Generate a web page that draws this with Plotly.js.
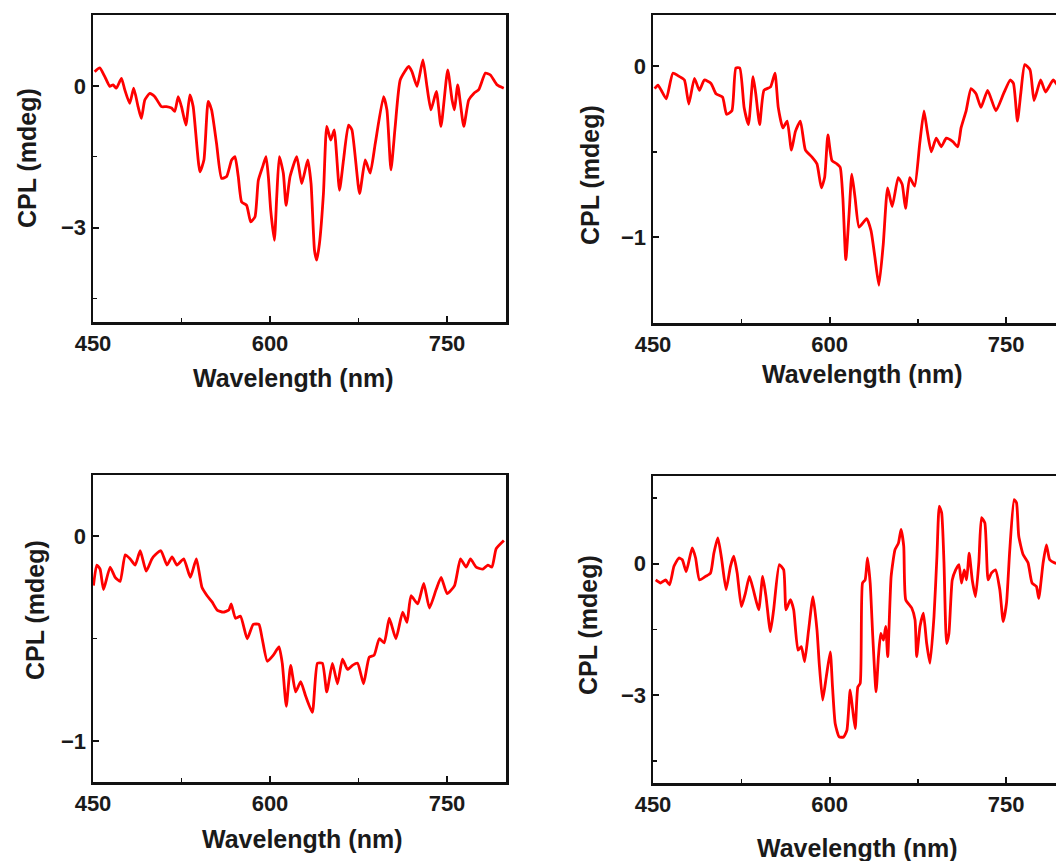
<!DOCTYPE html>
<html>
<head>
<meta charset="utf-8">
<script src="https://cdn.plot.ly/plotly-3.0.1.min.js"></script>
<style>
  html, body { margin: 0; padding: 0; background: #fff; overflow: hidden; }
  #chart { width: 1070px; height: 861px; }
</style>
</head>
<body>
<div id="chart"></div>
<script>
// ---- Data ----
const xTickLabels = ['450', '600', '750'];
const xTitle = 'Wavelength (nm)';
const yTitle = 'CPL (mdeg)';

const wl1 = [451.4,455.7,459.9,464.2,467.0,469.8,474.1,476.9,481.1,484.5,488.2,491.0,493.9,498.1,502.4,508.0,512.3,516.5,519.3,522.2,525.0,528.7,532.1,534.9,540.6,544.0,547.6,550.5,554.7,559.0,563.2,567.5,570.3,573.1,576.0,580.2,583.6,587.3,590.1,593.8,596.6,598.6,600.6,603.7,605.7,607.9,611.3,613.6,617.0,622.7,626.9,632.0,634.8,637.7,639.6,641.9,645.3,648.1,651.5,654.4,658.9,662.3,666.5,669.4,675.9,680.7,684.9,689.2,696.2,699.1,702.5,706.1,710.4,717.5,720.3,724.6,729.6,733.0,736.4,741.0,744.9,750.6,754.3,756.3,759.1,764.2,768.4,772.7,776.9,782.6,786.8,792.5,798.1];
const cpl1 = [0.30,0.38,0.20,-0.01,0.02,-0.05,0.16,-0.08,-0.37,-0.05,-0.44,-0.69,-0.30,-0.16,-0.23,-0.44,-0.44,-0.47,-0.54,-0.23,-0.44,-0.83,-0.19,-0.44,-1.82,-1.57,-0.33,-0.51,-1.22,-1.96,-1.92,-1.57,-1.50,-1.92,-2.46,-2.53,-2.88,-2.77,-2.00,-1.71,-1.50,-1.92,-2.63,-3.27,-2.35,-1.50,-1.85,-2.53,-1.92,-1.50,-2.07,-1.57,-2.07,-3.48,-3.69,-3.34,-2.28,-0.86,-1.15,-0.93,-2.21,-1.57,-0.83,-0.93,-2.28,-1.57,-1.85,-1.22,-0.23,-0.51,-1.78,-0.86,0.13,0.41,0.30,-0.01,0.55,-0.01,-0.51,-0.12,-0.86,0.34,-0.30,-0.51,0.02,-0.86,-0.30,-0.16,-0.08,0.27,0.23,0.02,-0.05];

const wl2 = [451.4,454.2,457.0,461.3,466.9,472.5,476.7,480.4,485.2,489.4,493.6,499.3,503.5,509.1,512.5,517.0,520.4,523.7,527.4,531.1,535.0,537.3,540.6,544.3,549.9,553.6,556.4,560.3,564.0,567.6,571.0,575.2,579.5,585.1,589.3,593.0,595.8,598.6,602.0,606.2,609.0,611.3,613.8,616.6,618.9,621.7,625.1,631.5,635.2,638.6,641.9,645.6,649.3,653.2,658.3,661.7,664.5,668.1,672.3,676.6,680.2,683.0,686.4,690.6,694.9,699.1,704.7,708.9,711.7,716.0,720.2,724.4,728.6,734.3,741.3,747.8,753.4,756.2,759.6,762.4,765.8,770.3,773.7,779.3,783.5,790.0,795.0,800.0];
const cpl2 = [-0.13,-0.11,-0.14,-0.19,-0.04,-0.06,-0.08,-0.22,-0.07,-0.14,-0.08,-0.10,-0.16,-0.18,-0.28,-0.26,-0.01,-0.01,-0.24,-0.34,-0.06,-0.16,-0.34,-0.14,-0.12,-0.04,-0.24,-0.36,-0.32,-0.49,-0.38,-0.32,-0.49,-0.53,-0.57,-0.71,-0.65,-0.40,-0.55,-0.57,-0.59,-0.77,-1.13,-0.86,-0.63,-0.77,-0.94,-0.89,-0.96,-1.12,-1.28,-1.04,-0.71,-0.82,-0.65,-0.69,-0.83,-0.65,-0.70,-0.45,-0.26,-0.38,-0.50,-0.42,-0.47,-0.42,-0.44,-0.47,-0.36,-0.26,-0.13,-0.16,-0.24,-0.14,-0.26,-0.16,-0.08,-0.10,-0.32,-0.16,0.01,-0.02,-0.20,-0.08,-0.15,-0.08,-0.12,-0.10];

const wl3 = [450.4,453.2,456.0,458.9,464.5,468.8,473.0,477.3,481.5,485.8,490.0,495.1,499.9,502.8,507.6,512.7,517.0,521.2,526.9,532.5,537.6,542.4,546.7,550.9,555.2,560.3,565.1,567.1,570.8,575.0,580.7,585.8,590.6,593.4,597.7,602.8,607.6,610.4,613.8,617.5,621.7,626.0,630.2,635.9,640.2,644.4,648.1,652.9,657.2,661.4,665.7,669.9,674.2,679.3,684.1,688.3,692.6,696.8,701.1,706.7,712.4,716.1,719.5,725.2,730.3,735.1,740.8,745.0,750.1,756.4,761.4,766.2,769.9,774.7,780.4,784.6,788.1,791.7,798.2];
const cpl3 = [-0.24,-0.14,-0.16,-0.26,-0.15,-0.20,-0.22,-0.09,-0.11,-0.14,-0.07,-0.17,-0.11,-0.09,-0.07,-0.14,-0.10,-0.14,-0.11,-0.20,-0.11,-0.25,-0.29,-0.32,-0.36,-0.37,-0.36,-0.33,-0.40,-0.39,-0.50,-0.43,-0.43,-0.50,-0.61,-0.58,-0.54,-0.62,-0.83,-0.63,-0.76,-0.71,-0.78,-0.86,-0.62,-0.62,-0.76,-0.62,-0.72,-0.60,-0.65,-0.63,-0.62,-0.72,-0.59,-0.58,-0.50,-0.52,-0.40,-0.50,-0.37,-0.42,-0.29,-0.33,-0.23,-0.35,-0.26,-0.20,-0.28,-0.24,-0.11,-0.15,-0.11,-0.15,-0.16,-0.14,-0.15,-0.06,-0.02];

const wl4 = [452.3,456.5,460.7,464.1,467.8,472.0,474.9,478.2,483.3,486.2,489.5,494.6,498.9,501.7,505.1,508.2,512.1,515.8,518.6,521.5,525.1,528.5,531.9,535.6,539.8,543.2,546.0,549.7,552.5,557.3,561.0,563.0,566.7,569.5,573.2,576.0,578.8,582.2,585.9,589.3,591.2,594.1,597.2,600.6,602.5,604.8,608.2,611.9,614.7,617.5,619.5,621.8,624.0,626.0,628.0,630.2,632.2,634.5,636.7,639.5,641.5,643.5,645.8,647.7,649.4,652.3,655.6,658.5,660.7,663.0,664.7,669.8,672.6,674.0,676.8,679.7,682.5,685.3,688.7,691.2,693.2,695.2,697.2,699.4,701.4,704.2,707.1,709.9,712.1,714.4,716.4,718.6,721.2,724.0,726.8,729.1,731.9,734.7,737.6,740.9,744.6,747.5,750.3,753.1,756.8,758.8,760.7,764.4,768.6,772.0,775.7,777.7,781.4,784.2,787.0,791.2,795.0,800.0];
const cpl4 = [-0.37,-0.44,-0.37,-0.48,-0.06,0.13,0.09,-0.18,0.36,0.13,-0.37,-0.29,-0.21,0.24,0.59,0.13,-0.59,-0.06,0.17,-0.21,-0.98,-0.67,-0.29,-0.63,-1.05,-0.29,-0.75,-1.55,-1.05,-0.02,-0.14,-1.05,-0.82,-1.05,-1.97,-1.89,-2.23,-1.51,-0.75,-1.51,-2.27,-3.11,-2.58,-2.01,-2.81,-3.65,-3.95,-3.95,-3.80,-2.88,-3.30,-3.76,-2.81,-2.73,-0.44,-0.37,0.13,-0.44,-1.66,-2.92,-2.12,-1.59,-1.74,-1.43,-2.12,-0.29,0.32,0.47,0.78,0.40,-0.82,-1.01,-1.28,-2.12,-1.43,-1.13,-1.82,-2.27,-1.21,0.17,1.31,1.16,0.02,-1.82,-1.59,-0.37,-0.14,-0.02,-0.44,-0.14,-0.37,0.24,-0.37,-0.75,0.02,1.05,0.93,-0.37,-0.21,-0.14,-0.59,-1.32,-0.90,0.32,1.46,1.39,0.63,0.21,0.02,-0.44,-0.52,-0.79,0.02,0.43,0.09,0.02,0.00,0.05];

// ---- Layout helpers ----
const W = 1070, H = 861;
const px = v => v / W;
const py = v => 1 - v / H;

const TICKFONT = { family: 'Arial, "Liberation Sans", sans-serif', size: 22, color: '#1a1a1a', weight: 'bold' };
const TITLEFONT = { family: 'Arial, "Liberation Sans", sans-serif', size: 25, color: '#1a1a1a', weight: 'bold' };

function xAxis(domain, anchor) {
  return {
    domain: domain, anchor: anchor, range: [450, 800],
    tickmode: 'array', tickvals: [450, 600, 750], ticktext: xTickLabels,
    showline: true, linewidth: 2.5, linecolor: '#111', mirror: true,
    ticks: 'inside', ticklen: 6, tickwidth: 2, tickcolor: '#111',
    minor: { ticks: 'inside', ticklen: 4, tickwidth: 1.5, tickcolor: '#111', tickmode: 'linear', tick0: 450, dtick: 75 },
    showgrid: false, zeroline: false, tickfont: TICKFONT, fixedrange: true
  };
}
function yAxis(domain, anchor, range, dtick, minorDtick) {
  return {
    domain: domain, anchor: anchor, range: range,
    tickmode: 'linear', tick0: 0, dtick: dtick,
    showline: true, linewidth: 2.5, linecolor: '#111', mirror: true,
    ticks: 'inside', ticklen: 6, tickwidth: 2, tickcolor: '#111',
    minor: { ticks: 'inside', ticklen: 4, tickwidth: 1.5, tickcolor: '#111', tickmode: 'linear', tick0: 0, dtick: minorDtick },
    showgrid: false, zeroline: false, tickfont: TICKFONT, fixedrange: true
  };
}

const lineStyle = { color: '#ff0000', width: 2.8, shape: 'spline', smoothing: 0.5 };
const traces = [
  { x: wl1, y: cpl1, xaxis: 'x', yaxis: 'y', mode: 'lines', line: lineStyle, hoverinfo: 'skip', showlegend: false },
  { x: wl2, y: cpl2, xaxis: 'x2', yaxis: 'y2', mode: 'lines', line: lineStyle, hoverinfo: 'skip', showlegend: false },
  { x: wl3, y: cpl3, xaxis: 'x3', yaxis: 'y3', mode: 'lines', line: lineStyle, hoverinfo: 'skip', showlegend: false },
  { x: wl4, y: cpl4, xaxis: 'x4', yaxis: 'y4', mode: 'lines', line: lineStyle, hoverinfo: 'skip', showlegend: false }
];

function ann(text, x, y, angle) {
  return { text: text, xref: 'paper', yref: 'paper', x: px(x), y: py(y), xanchor: 'center', yanchor: 'middle',
           showarrow: false, textangle: angle || 0, font: TITLEFONT };
}

const layout = {
  width: W, height: H,
  margin: { l: 0, r: 0, t: 0, b: 0 },
  paper_bgcolor: '#fff', plot_bgcolor: '#fff',
  showlegend: false,
  xaxis:  xAxis([px(93), px(506)], 'y'),
  yaxis:  yAxis([py(322), py(15)], 'x', [-5, 1.5], 3, 1.5),
  xaxis2: xAxis([px(653), px(1065)], 'y2'),
  yaxis2: yAxis([py(323), py(15)], 'x2', [-1.5, 0.3], 1, 0.5),
  xaxis3: xAxis([px(93), px(506)], 'y3'),
  yaxis3: yAxis([py(782), py(475)], 'x3', [-1.2, 0.3], 1, 0.5),
  xaxis4: xAxis([px(653), px(1065)], 'y4'),
  yaxis4: yAxis([py(783), py(476)], 'x4', [-5, 2], 3, 1.5),
  annotations: [
    ann(xTitle, 293, 378), ann(xTitle, 862, 374), ann(xTitle, 302, 839), ann(xTitle, 857, 848),
    ann(yTitle, 27, 158, -90), ann(yTitle, 590, 175, -90), ann(yTitle, 35, 610, -90), ann(yTitle, 588, 625, -90)
  ]
};

Plotly.newPlot('chart', traces, layout, { staticPlot: true, displayModeBar: false });
</script>
</body>
</html>
